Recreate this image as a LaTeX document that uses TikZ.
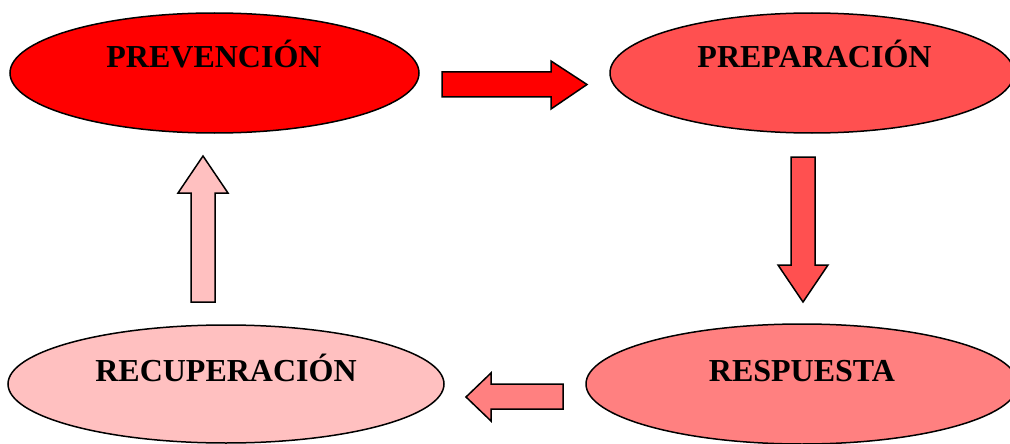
\documentclass[tikz,border=0pt]{standalone}
\usepackage{fontspec}
\setmainfont{Liberation Serif}
\usetikzlibrary{shapes.geometric}
\definecolor{cA}{HTML}{FF0000}
\definecolor{cB}{HTML}{FF5050}
\definecolor{cC}{HTML}{FF8080}
\definecolor{cD}{HTML}{FFC0C0}
\tikzset{
  ell/.style={ellipse, draw=black, line width=1.5pt, inner sep=0pt},
  lbl/.style={font=\fontsize{32}{36}\selectfont\bfseries, inner sep=0pt, anchor=base},
  blockarrow/.style={draw=black, line width=1.5pt, line join=miter},
}
\begin{document}
\begin{tikzpicture}[x=1pt,y=-1pt]
\useasboundingbox (0,0) rectangle (1010,444);
\clip (0,0) rectangle (1010,444);
% ellipses
\node[ell, fill=cA, minimum width=409pt, minimum height=120pt] (prev) at (214.5,73) {};
\node[ell, fill=cB, minimum width=404pt, minimum height=120pt] (prep) at (812,73) {};
\node[ell, fill=cC, minimum width=432pt, minimum height=120pt] (resp) at (802,384) {};
\node[ell, fill=cD, minimum width=436pt, minimum height=118pt] (recu) at (226,384) {};
% labels
\node[lbl] (prevT) at (214,68) {PREVENCIÓN};
\node[lbl] (prepT) at (814.5,68) {PREPARACIÓN};
\node[lbl] (respT) at (802,381) {RESPUESTA};
\node[lbl] (recuT) at (226,381) {RECUPERACIÓN};
% block arrows
\draw[blockarrow, fill=cA] (442,72) -- (551,72) -- (551,61) -- (587,84.5) -- (551,109) -- (551,97) -- (442,97) -- cycle;
\draw[blockarrow, fill=cB] (791,157) -- (815,157) -- (815,265) -- (828,265) -- (803,302) -- (778,265) -- (791,265) -- cycle;
\draw[blockarrow, fill=cC] (563,384) -- (491,384) -- (491,373) -- (466,397) -- (491,421) -- (491,409) -- (563,409) -- cycle;
\draw[blockarrow, fill=cD] (191,302) -- (191,193) -- (178,193) -- (203,156) -- (228,193) -- (215,193) -- (215,302) -- cycle;
\end{tikzpicture}
\end{document}
